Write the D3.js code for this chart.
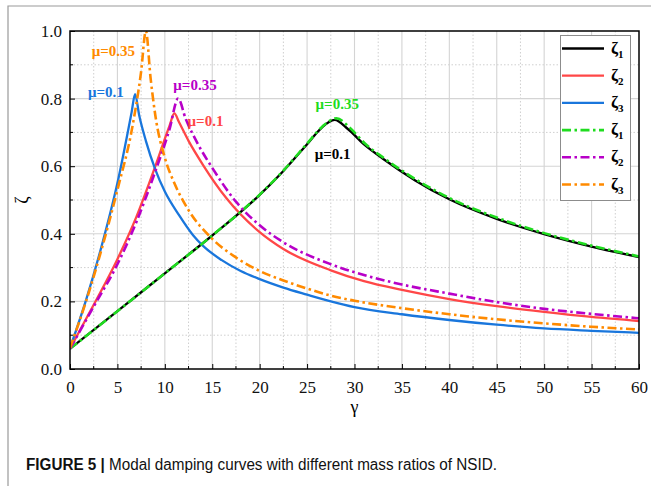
<!DOCTYPE html>
<html>
<head>
<meta charset="utf-8">
<script src="https://cdn.jsdelivr.net/npm/d3@7"></script>
<style>
  body { margin: 0; background: #fff; }
  svg { display: block; }
</style>
</head>
<body>
<svg id="chart" width="651" height="486"></svg>
<script>
// tick values / labels
const xTicks = [0, 5, 10, 15, 20, 25, 30, 35, 40, 45, 50, 55, 60];
const xMinor = [2.5, 7.5, 12.5, 17.5, 22.5, 27.5, 32.5, 37.5, 42.5, 47.5, 52.5, 57.5];
const yTicks = [0, 0.2, 0.4, 0.6, 0.8, 1.0];
const yMinor = [0.1, 0.3, 0.5, 0.7, 0.9];

// [gamma, zeta]
const zeta1_mu01 = [[0,0.06],[5,0.171],[10,0.283],[15,0.395],[20,0.515],[22.5,0.586],[25,0.665],[26.5,0.713],[27.9,0.737],[29.3,0.71],[31.1,0.662],[33,0.622],[36.4,0.558],[40,0.502],[45,0.444],[50,0.399],[55,0.362],[60,0.331]];
const zeta2_mu01 = [[0,0.06],[2.5,0.19],[5,0.325],[7,0.45],[9,0.6],[10.5,0.72],[11,0.756],[11.5,0.73],[12.5,0.675],[14,0.605],[16.5,0.505],[20,0.405],[22.5,0.355],[27.5,0.292],[31,0.26],[35,0.234],[40,0.207],[45,0.186],[50,0.169],[55,0.154],[60,0.142]];
const zeta3_mu01 = [[0,0.062],[1.69,0.204],[3.3,0.36],[5,0.55],[6.5,0.76],[6.86,0.813],[7.3,0.75],[8,0.675],[9,0.59],[10,0.525],[11.5,0.455],[13,0.395],[14,0.365],[16,0.322],[18,0.29],[20,0.266],[22.5,0.241],[25,0.22],[27.5,0.2],[30,0.183],[35,0.162],[40,0.145],[45,0.131],[50,0.12],[55,0.113],[60,0.107]];
const zeta1_mu035 = [[0,0.06],[5,0.171],[10,0.283],[15,0.395],[20,0.516],[22.5,0.587],[25,0.667],[26.6,0.717],[28.1,0.742],[29.5,0.714],[31.1,0.667],[33,0.626],[36.4,0.562],[40,0.506],[45,0.448],[50,0.402],[55,0.365],[60,0.333]];
const zeta2_mu035 = [[0,0.06],[2.5,0.185],[5,0.31],[7,0.435],[9,0.585],[10.5,0.71],[11.4,0.80],[12.2,0.74],[13.5,0.665],[15,0.595],[17.5,0.495],[20,0.425],[22.5,0.375],[27.5,0.31],[31,0.278],[35,0.25],[40,0.223],[45,0.198],[50,0.178],[55,0.163],[60,0.150]];
const zeta3_mu035 = [[0,0.062],[1.69,0.2],[3.3,0.351],[5,0.53],[6.6,0.72],[7.5,0.88],[8.0,1.0],[8.5,0.86],[9,0.75],[10,0.625],[11,0.55],[12.5,0.47],[15,0.385],[17.5,0.33],[20,0.29],[22.5,0.262],[25,0.238],[27.5,0.217],[30,0.202],[35,0.18],[40,0.162],[45,0.147],[50,0.135],[55,0.125],[60,0.117]];

const seriesNames = ['ζ1', 'ζ2', 'ζ3', 'ζ1', 'ζ2', 'ζ3'];
const seriesData = [zeta1_mu01, zeta2_mu01, zeta3_mu01, zeta1_mu035, zeta2_mu035, zeta3_mu035];
const seriesColors = ['#000000', '#ff4747', '#1976dc', '#1fdc1f', '#b800c8', '#ff8a00'];
const seriesDashed = [false, false, false, true, true, true];

const notes = [
  {text:'μ=0.35', color:'#ff8a00', g:2.3, z:0.925},
  {text:'μ=0.1',  color:'#1976dc', g:1.9, z:0.805},
  {text:'μ=0.35', color:'#b800c8', g:10.9, z:0.825},
  {text:'μ=0.1',  color:'#ff4747', g:12.4, z:0.72},
  {text:'μ=0.35', color:'#1fdc1f', g:25.9, z:0.77},
  {text:'μ=0.1',  color:'#000000', g:25.8, z:0.62}
];

const svg = d3.select('#chart');
const plotLeft = 70, plotRight = 639, plotTop = 31, plotBottom = 369;
const x = d3.scaleLinear().domain([0, 60]).range([plotLeft, plotRight]);
const y = d3.scaleLinear().domain([0, 1]).range([plotBottom, plotTop]);
const serif = '"Liberation Serif", "DejaVu Serif", serif';

// outer panel border
svg.append('path').attr('d', 'M8,486 V6 H651')
  .attr('fill','none').attr('stroke','#9a9a9a').attr('stroke-width',1.2);

// grid
const grid = svg.append('g');
grid.selectAll('line.minx').data(xMinor).enter().append('line')
  .attr('x1', d=>x(d)).attr('x2', d=>x(d)).attr('y1', plotTop).attr('y2', plotBottom)
  .attr('stroke','#cfcfcf').attr('stroke-width',1).attr('stroke-dasharray','1.5,2');
grid.selectAll('line.miny').data(yMinor).enter().append('line')
  .attr('y1', d=>y(d)).attr('y2', d=>y(d)).attr('x1', plotLeft).attr('x2', plotRight)
  .attr('stroke','#cfcfcf').attr('stroke-width',1).attr('stroke-dasharray','1.5,2');
grid.selectAll('line.majx').data(xTicks.slice(1, -1)).enter().append('line')
  .attr('x1', d=>x(d)).attr('x2', d=>x(d)).attr('y1', plotTop).attr('y2', plotBottom)
  .attr('stroke','#d4d4d4').attr('stroke-width',1.1);
grid.selectAll('line.majy').data(yTicks.slice(1, -1)).enter().append('line')
  .attr('y1', d=>y(d)).attr('y2', d=>y(d)).attr('x1', plotLeft).attr('x2', plotRight)
  .attr('stroke','#d4d4d4').attr('stroke-width',1.1);

// curves
svg.append('clipPath').attr('id','plotclip').append('rect')
  .attr('x', plotLeft).attr('y', plotTop).attr('width', plotRight-plotLeft).attr('height', plotBottom-plotTop);
const line = d3.line().x(d=>x(d[0])).y(d=>y(d[1])).curve(d3.curveMonotoneX);
const curves = svg.append('g').attr('clip-path','url(#plotclip)');
seriesData.forEach((s, i) => {
  curves.append('path').datum(s)
    .attr('d', line)
    .attr('fill','none')
    .attr('stroke', seriesColors[i])
    .attr('stroke-width', seriesDashed[i] ? 2.6 : 2.3)
    .attr('stroke-dasharray', seriesDashed[i] ? '9,3.5,2.5,3.5' : null)
    .attr('stroke-linejoin','round');
});

// axes (ticks inside)
const xAxis = d3.axisBottom(x).tickValues(xTicks).tickSize(-5).tickPadding(12).tickFormat(d3.format('d'));
const gx = svg.append('g').attr('transform', `translate(0,${plotBottom})`).call(xAxis);
gx.selectAll('line.minor').data(xMinor).enter().append('line')
  .attr('x1', d=>x(d)).attr('x2', d=>x(d)).attr('y1', 0).attr('y2', -3)
  .attr('stroke','#000');
const yAxis = d3.axisLeft(y).tickValues(yTicks).tickSize(-5).tickPadding(8).tickFormat(d3.format('.1f'));
const gy = svg.append('g').attr('transform', `translate(${plotLeft},0)`).call(yAxis);
gy.selectAll('line.minor').data(yMinor).enter().append('line')
  .attr('y1', d=>y(d)).attr('y2', d=>y(d)).attr('x1', 0).attr('x2', 3)
  .attr('stroke','#000');
[gx, gy].forEach(g => {
  g.select('.domain').remove();
  g.selectAll('.tick line').attr('stroke','#000');
  g.selectAll('text').attr('font-family', serif).attr('font-size', 17).attr('fill','#111');
});

// frame
svg.append('rect').attr('x', plotLeft).attr('y', plotTop).attr('width', plotRight-plotLeft).attr('height', plotBottom-plotTop)
  .attr('fill','none').attr('stroke','#000').attr('stroke-width',1.5);

// axis titles
svg.append('text').attr('x', (plotLeft+plotRight)/2).attr('y', 413).attr('text-anchor','middle')
  .attr('font-family', serif).attr('font-size', 18).text('γ');
svg.append('text').attr('transform','translate(28,200) rotate(-90)').attr('text-anchor','middle')
  .attr('font-family', serif).attr('font-size', 18).text('ζ');

// annotations
svg.selectAll('text.note').data(notes).enter().append('text')
  .attr('x', d=>x(d.g)).attr('y', d=>y(d.z))
  .attr('font-family', serif).attr('font-weight','bold').attr('font-size', 15)
  .attr('fill', d=>d.color).text(d=>d.text);

// legend
const lg = svg.append('g');
lg.append('rect').attr('x', 560.5).attr('y', 35.5).attr('width', 70).attr('height', 165)
  .attr('fill','#fff').attr('stroke','#8c8c8c').attr('stroke-width',1);
seriesNames.forEach((name, i) => {
  const cy = 48.5 + i * 27.2;
  lg.append('line').attr('x1', 562).attr('x2', 604).attr('y1', cy).attr('y2', cy)
    .attr('stroke', seriesColors[i]).attr('stroke-width', seriesDashed[i] ? 2.6 : 2.3)
    .attr('stroke-dasharray', seriesDashed[i] ? '9,3.5,2.5,3.5' : null);
  const t = lg.append('text').attr('x', 611).attr('y', cy + 5)
    .attr('font-family', serif).attr('font-weight','bold').attr('font-size', 17);
  t.append('tspan').text(name[0]);
  t.append('tspan').attr('font-size', 11).attr('dy', 4).text(name.slice(1));
});

// caption
const cap = svg.append('text').attr('x', 26).attr('y', 470)
  .attr('font-family','"Liberation Sans Narrow", "Liberation Sans", Arial, sans-serif').attr('font-size', 16).attr('fill','#111');
cap.append('tspan').attr('font-weight','bold').text('FIGURE 5 | ');
cap.append('tspan').text('Modal damping curves with different mass ratios of NSID.');
const w = cap.node().getComputedTextLength();
if (w > 0) cap.attr('textLength', 471).attr('lengthAdjust','spacingAndGlyphs');
</script>
</body>
</html>
